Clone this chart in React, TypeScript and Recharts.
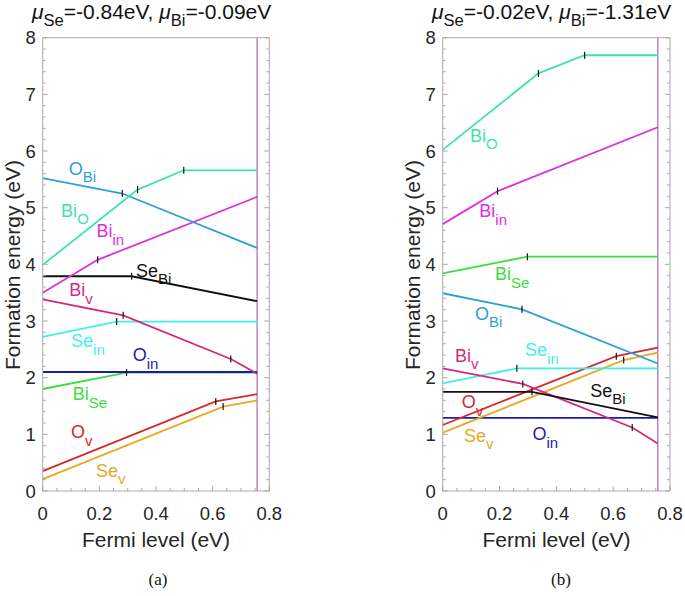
import React from 'react';
import { LineChart, Line, XAxis, YAxis, ReferenceLine, ReferenceDot } from 'recharts';

const FONT = '"Liberation Sans", Arial, Helvetica, sans-serif';
const AXIS = '#a9a9a9';
const TEXT = '#262626';

// ---- axes ----
const xMajor = [0, 0.2, 0.4, 0.6, 0.8];
const xTickLabels = ['0', '0.2', '0.4', '0.6', '0.8'];
const yMajor = [0, 1, 2, 3, 4, 5, 6, 7, 8];
const yTickLabels = ['0', '1', '2', '3', '4', '5', '6', '7', '8'];
const xMinorPerMajor = 4; // 0.05 eV
const yMinorPerMajor = 5; // 0.2 eV
const bandGap = 0.757;

// ---- defects (drawing order) ----
const defectKeys = ['BiSe', 'OIn', 'SeV', 'OV', 'SeIn', 'BiV', 'SeBi', 'BiIn', 'OBi', 'BiO'];
const defectBase = ['Bi', 'O', 'Se', 'O', 'Se', 'Bi', 'Se', 'Bi', 'O', 'Bi'];
const defectSub = ['Se', 'in', 'v', 'v', 'in', 'v', 'Bi', 'in', 'Bi', 'O'];
const defectColors = ['#3ddc3d', '#1c1cab', '#e8a824', '#d42a2a', '#3ff0f0', '#d42a78', '#111111', '#de2ede', '#2b9fd8', '#3ee3aa'];

// ---- panel (a): mu_Se=-0.84, mu_Bi=-0.09 ----
const aBiSeX = [0, 0.296, 0.757];
const aBiSeY = [1.8, 2.09, 2.09];
const aOInX = [0, 0.757];
const aOInY = [2.1, 2.1];
const aSeVX = [0, 0.637, 0.757];
const aSeVY = [0.21, 1.49, 1.6];
const aOVX = [0, 0.611, 0.757];
const aOVY = [0.35, 1.58, 1.71];
const aSeInX = [0, 0.261, 0.757];
const aSeInY = [2.72, 2.99, 2.99];
const aBiVX = [0, 0.284, 0.664, 0.757];
const aBiVY = [3.38, 3.1, 2.33, 2.07];
const aSeBiX = [0, 0.314, 0.757];
const aSeBiY = [3.79, 3.79, 3.35];
const aBiInX = [0, 0.194, 0.757];
const aBiInY = [3.5, 4.08, 5.19];
const aOBiX = [0, 0.281, 0.757];
const aOBiY = [5.52, 5.25, 4.29];
const aBiOX = [0, 0.335, 0.498, 0.757];
const aBiOY = [3.99, 5.32, 5.66, 5.66];
const aLabelX = [0.106, 0.318, 0.188, 0.1, 0.1, 0.094, 0.329, 0.19, 0.092, 0.065];
const aLabelY = [1.6, 2.29, 0.253, 0.93, 2.54, 3.44, 3.78, 4.48, 5.58, 4.84];

// ---- panel (b): mu_Se=-0.02, mu_Bi=-1.31 ----
const bBiSeX = [0, 0.298, 0.757];
const bBiSeY = [3.84, 4.135, 4.135];
const bOInX = [0, 0.757];
const bOInY = [1.29, 1.29];
const bSeVX = [0, 0.637, 0.757];
const bSeVY = [1.03, 2.31, 2.44];
const bOVX = [0, 0.611, 0.757];
const bOVY = [1.165, 2.38, 2.53];
const bSeInX = [0, 0.261, 0.757];
const bSeInY = [1.9, 2.165, 2.165];
const bBiVX = [0, 0.282, 0.667, 0.757];
const bBiVY = [2.165, 1.89, 1.12, 0.84];
const bSeBiX = [0, 0.314, 0.757];
const bSeBiY = [1.75, 1.75, 1.3];
const bBiInX = [0, 0.193, 0.757];
const bBiInY = [4.71, 5.29, 6.42];
const bOBiX = [0, 0.279, 0.757];
const bOBiY = [3.49, 3.206, 2.25];
const bBiOX = [0, 0.337, 0.4995, 0.757];
const bBiOY = [6.02, 7.37, 7.69, 7.69];
const bLabelX = [0.184, 0.316, 0.075, 0.067, 0.29, 0.043, 0.519, 0.129, 0.114, 0.096];
const bLabelY = [3.72, 0.9, 0.87, 1.46, 2.38, 2.28, 1.66, 4.83, 3.02, 6.16];

const panelASeries = [
  [aBiSeX, aBiSeY], [aOInX, aOInY], [aSeVX, aSeVY], [aOVX, aOVY], [aSeInX, aSeInY],
  [aBiVX, aBiVY], [aSeBiX, aSeBiY], [aBiInX, aBiInY], [aOBiX, aOBiY], [aBiOX, aBiOY],
];
const panelBSeries = [
  [bBiSeX, bBiSeY], [bOInX, bOInY], [bSeVX, bSeVY], [bOVX, bOVY], [bSeInX, bSeInY],
  [bBiVX, bBiVY], [bSeBiX, bSeBiY], [bBiInX, bBiInY], [bOBiX, bOBiY], [bBiOX, bBiOY],
];

const subdivide = (major: number[], n: number) => {
  const out: number[] = [];
  for (let i = 0; i < major.length - 1; i++) {
    const step = (major[i + 1] - major[i]) / n;
    for (let j = 0; j < n; j++) out.push(+(major[i] + j * step).toFixed(4));
  }
  out.push(major[major.length - 1]);
  return out;
};
const xTicks = subdivide(xMajor, xMinorPerMajor);
const yTicks = subdivide(yMajor, yMinorPerMajor);

const majorIndex = (list: number[], v: number) => list.findIndex((m) => Math.abs(m - v) < 1e-6);

const XTick = (props: any) => {
  const { x, y, payload, side } = props;
  const mi = majorIndex(xMajor, payload.value);
  const len = mi >= 0 ? 5 : 3;
  const dir = side === 'bottom' ? -1 : 1;
  return (
    <g>
      <line x1={x} x2={x} y1={y} y2={y + dir * len} stroke={AXIS} strokeWidth={1} />
      {side === 'bottom' && mi >= 0 && (
        <text x={x} y={y + 28.5} textAnchor="middle" fontSize={18.5} fill={TEXT} fontFamily={FONT}>
          {xTickLabels[mi]}
        </text>
      )}
    </g>
  );
};

const YTick = (props: any) => {
  const { x, y, payload, side } = props;
  const mi = majorIndex(yMajor, payload.value);
  const len = mi >= 0 ? 5 : 3;
  const dir = side === 'left' ? 1 : -1;
  return (
    <g>
      <line x1={x} x2={x + dir * len} y1={y} y2={y} stroke={AXIS} strokeWidth={1} />
      {side === 'left' && mi >= 0 && (
        <text x={x - 7} y={y + 6.5} textAnchor="end" fontSize={18.5} fill={TEXT} fontFamily={FONT}>
          {yTickLabels[mi]}
        </text>
      )}
    </g>
  );
};

type PanelProps = {
  series: number[][][];
  labelX: number[];
  labelY: number[];
  width: number;
  left: number;
  right: number;
};

const AX = 1; // thickness reserved for each axis band

const Panel = ({ series, labelX, labelY, width, left, right }: PanelProps) => (
  <LineChart width={width} height={596} margin={{ top: 37.7 - AX, right: right - AX, bottom: 105 - AX, left: left - AX }}>
    <XAxis
      dataKey="x"
      type="number"
      domain={[0, 0.8]}
      ticks={xTicks}
      interval={0}
      allowDataOverflow
      height={AX}
      tickSize={0}
      tickMargin={0}
      tickLine={false}
      axisLine={{ stroke: AXIS }}
      tick={(p: any) => <XTick {...p} side="bottom" />}
    />
    <XAxis
      xAxisId="top"
      orientation="top"
      type="number"
      domain={[0, 0.8]}
      ticks={xTicks}
      interval={0}
      allowDataOverflow
      height={AX}
      tickSize={0}
      tickMargin={0}
      tickLine={false}
      axisLine={{ stroke: AXIS }}
      tick={(p: any) => <XTick {...p} side="top" />}
    />
    <YAxis
      type="number"
      domain={[0, 8]}
      ticks={yTicks}
      interval={0}
      allowDataOverflow
      width={AX}
      tickSize={0}
      tickMargin={0}
      tickLine={false}
      axisLine={{ stroke: AXIS }}
      tick={(p: any) => <YTick {...p} side="left" />}
    />
    <YAxis
      yAxisId="right"
      orientation="right"
      type="number"
      domain={[0, 8]}
      ticks={yTicks}
      interval={0}
      allowDataOverflow
      width={AX}
      tickSize={0}
      tickMargin={0}
      tickLine={false}
      axisLine={{ stroke: AXIS }}
      tick={(p: any) => <YTick {...p} side="right" />}
    />
    <ReferenceLine x={bandGap} stroke="#a878a8" strokeWidth={1.3} />
    {series.map(([xs, ys], i) => {
      const rows = xs.map((x, j) => ({ x, y: ys[j] }));
      const n = rows.length;
      return (
        <Line
          key={defectKeys[i]}
          data={rows}
          dataKey="y"
          type="linear"
          stroke={defectColors[i]}
          strokeWidth={1.8}
          isAnimationActive={false}
          activeDot={false}
          dot={(p: any) =>
            p.index > 0 && p.index < n - 1 ? (
              <line key={`k${i}-${p.index}`} x1={p.cx} x2={p.cx} y1={p.cy - 3.5} y2={p.cy + 3.5} stroke="#151515" strokeWidth={1.2} />
            ) : (
              <g key={`k${i}-${p.index}`} />
            )
          }
        />
      );
    })}
    {defectKeys.map((k, i) => (
      <ReferenceDot
        key={`lab-${k}`}
        x={labelX[i]}
        y={labelY[i]}
        r={0}
        ifOverflow="visible"
        shape={(p: any) => (
          <text x={p.cx} y={p.cy} fill={defectColors[i]} fontFamily={FONT} fontSize={18}>
            <tspan>{defectBase[i]}</tspan>
            <tspan fontSize={15} dy={7.5}>{defectSub[i]}</tspan>
          </text>
        )}
      />
    ))}
  </LineChart>
);

const Title = ({ x, se, bi }: { x: number; se: string; bi: string }) => (
  <text x={x} y={18.5} fontSize={21} fill="#111" fontFamily={FONT}>
    <tspan fontStyle="italic">μ</tspan>
    <tspan fontSize={16.5} dy={7}>Se</tspan>
    <tspan dy={-7}>{`=${se}eV, `}</tspan>
    <tspan fontStyle="italic">μ</tspan>
    <tspan fontSize={16.5} dy={7}>Bi</tspan>
    <tspan dy={-7}>{`=${bi}eV`}</tspan>
  </text>
);

export default function App() {
  return (
    <div style={{ position: 'absolute', left: 0, top: 0, width: 685, height: 596, background: '#fff', fontFamily: FONT }}>
      <div style={{ position: 'absolute', left: 0, top: 0 }}>
        <Panel series={panelASeries} labelX={aLabelX} labelY={aLabelY} width={340} left={42.7} right={70.7} />
      </div>
      <div style={{ position: 'absolute', left: 340, top: 0 }}>
        <Panel series={panelBSeries} labelX={bLabelX} labelY={bLabelY} width={345} left={102.7} right={15} />
      </div>
      <svg width={685} height={596} style={{ position: 'absolute', left: 0, top: 0, pointerEvents: 'none' }}>
        <Title x={32} se="-0.84" bi="-0.09" />
        <Title x={432} se="-0.02" bi="-1.31" />
        <text x={19.5} y={265} transform="rotate(-90 19.5 265)" textAnchor="middle" fontSize={21} fill={TEXT} fontFamily={FONT}>
          Formation energy (eV)
        </text>
        <text x={420} y={265} transform="rotate(-90 420 265)" textAnchor="middle" fontSize={21} fill={TEXT} fontFamily={FONT}>
          Formation energy (eV)
        </text>
        <text x={156} y={546.5} textAnchor="middle" fontSize={21} fill={TEXT} fontFamily={FONT}>
          Fermi level (eV)
        </text>
        <text x={556.5} y={546.5} textAnchor="middle" fontSize={21} fill={TEXT} fontFamily={FONT}>
          Fermi level (eV)
        </text>
        <text x={158} y={585} textAnchor="middle" fontSize={17} fill="#111" fontFamily='"Liberation Serif", "Times New Roman", serif'>
          (a)
        </text>
        <text x={561} y={585} textAnchor="middle" fontSize={17} fill="#111" fontFamily='"Liberation Serif", "Times New Roman", serif'>
          (b)
        </text>
      </svg>
    </div>
  );
}
